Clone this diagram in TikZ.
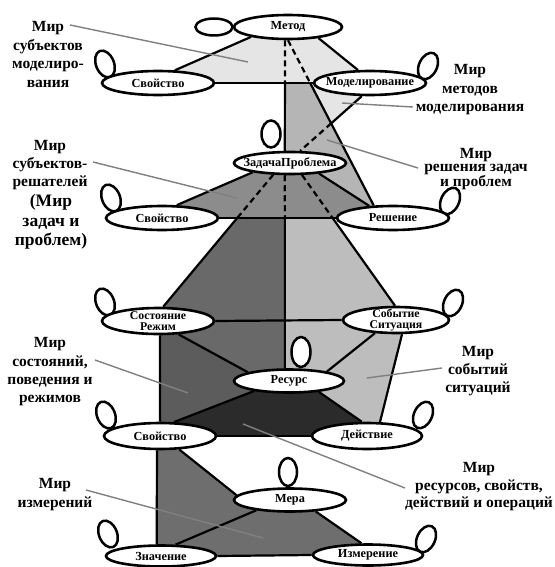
\documentclass[tikz,border=0pt]{standalone}
\usepackage{fontspec}
\setmainfont{Liberation Serif}
\usetikzlibrary{shapes.geometric,calc}
\pgfdeclarelayer{bg}
\pgfdeclarelayer{mid}
\pgfsetlayers{bg,mid,main}
\definecolor{fA}{gray}{0.90}
\definecolor{fB}{gray}{0.71}
\definecolor{fC}{gray}{0.55}
\definecolor{fD}{gray}{0.41}
\definecolor{fDb}{gray}{0.36}
\definecolor{fE}{gray}{0.74}
\definecolor{fF}{gray}{0.17}
\definecolor{fG}{gray}{0.43}
\begin{document}
\begin{tikzpicture}[x=1pt,y=-1pt]
\tikzset{
 ell/.style={ellipse, draw=black, line width=2.6pt, fill=white, inner sep=0pt},
 etxt/.style={font=\fontsize{12.3}{11.5}\selectfont\bfseries, align=center, inner sep=0pt},
 loope/.style={draw=black, line width=2.5pt, fill=white},
 conn/.style={draw=black, line width=2.2pt},
 dconn/.style={conn, dash pattern=on 6pt off 4pt},
 ptr/.style={draw=black!50, line width=1.4pt},
 lab/.style={font=\fontsize{15.5}{18.5}\selectfont\bfseries, align=center, inner sep=0pt, text=black},
}
\useasboundingbox (0,0) rectangle (554,567);
% ellipse nodes
\node[ell, minimum width=108pt, minimum height=24pt] (M) at (288,27) {};
\node[ell, minimum width=112pt, minimum height=24pt] (S1) at (158,83) {};
\node[ell, minimum width=112pt, minimum height=24pt] (D) at (370,83) {};
\node[ell, minimum width=112pt, minimum height=22pt] (Z) at (290,163) {};
\node[ell, minimum width=112pt, minimum height=24pt] (S2) at (162,218) {};
\node[ell, minimum width=112pt, minimum height=24pt] (R) at (393,218) {};
\node[ell, minimum width=112pt, minimum height=26pt] (C) at (158,321) {};
\node[ell, minimum width=106pt, minimum height=26pt] (E) at (396,320) {};
\node[ell, minimum width=110pt, minimum height=23pt] (P) at (289,381) {};
\node[ell, minimum width=112pt, minimum height=26pt] (S3) at (160,436) {};
\node[ell, minimum width=110pt, minimum height=26pt] (A) at (367,436) {};
\node[ell, minimum width=112pt, minimum height=23pt] (W) at (290,500) {};
\node[ell, minimum width=110pt, minimum height=21pt] (V) at (161,556) {};
\node[ell, minimum width=110pt, minimum height=21pt] (I) at (368,555) {};
% ellipse texts
\node[etxt] (tM) at (M) {Метод};
\node[etxt] (tS1) at (S1) {Свойство};
\node[etxt] (tD) at (D) {Моделирование};
\node[etxt] (tZ) at (Z) {ЗадачаПроблема};
\node[etxt] (tS2) at (S2) {Свойство};
\node[etxt] (tR) at (R) {Решение};
\node[etxt, font=\fontsize{11.8}{11}\selectfont\bfseries] (tC) at (C) {Состояние\\Режим};
\node[etxt, font=\fontsize{11.8}{11}\selectfont\bfseries] (tE) at (E) {Событие\\Ситуация};
\node[etxt] (tP) at (P) {Ресурс};
\node[etxt] (tS3) at (S3) {Свойство};
\node[etxt] (tA) at (A) {Действие};
\node[etxt] (tW) at (W) {Мера};
\node[etxt] (tV) at (V) {Значение};
\node[etxt] (tI) at (I) {Измерение};
% crossing points
\coordinate (x4) at (intersection of M.257--Z.113 and S1.0--D.180);
\coordinate (x5) at (intersection of M.270--R.147 and S1.0--D.180);
\coordinate (x6) at (intersection of D.238--Z.50 and M.270--R.147);
\coordinate (x10) at (intersection of Z.215--C.70 and S2.0--R.180);
\coordinate (x11) at (intersection of Z.247--P.108 and S2.0--R.180);
\coordinate (x12) at (intersection of Z.315--E.94 and S2.0--R.180);
% labels
\node[lab] (t1) at (48,54.5) {Мир\\субъектов\\моделиро-\\вания};
\node[lab] (t2) at (470,90) {Мир\\методов\\моделирования};
\node[lab, font=\fontsize{15.5}{13}\selectfont\bfseries] (t3) at (476,169) {Мир\\решения задач\\и проблем};
\node[lab, font=\fontsize{15.5}{18}\selectfont\bfseries] (t4a) at (50,165.5) {Мир\\субъектов-\\решателей};
\node[lab, font=\fontsize{17.5}{19.5}\selectfont\bfseries] (t4b) at (51,222) {(Мир\\задач и\\проблем)};
\node[lab, font=\fontsize{15.5}{18.3}\selectfont\bfseries] (t5) at (50,372) {Мир\\состояний,\\поведения и\\режимов};
\node[lab, font=\fontsize{15.5}{18}\selectfont\bfseries] (t6) at (478,371.5) {Мир\\событий\\ситуаций};
\node[lab, font=\fontsize{15.5}{17.5}\selectfont\bfseries] (t7) at (479,487) {Мир\\ресурсов, свойств,\\действий и операций};
\node[lab, font=\fontsize{15.5}{19}\selectfont\bfseries] (t8) at (55,495) {Мир\\измерений};
% pointer ends
\coordinate (p1a) at (70,25);   \coordinate (p1b) at (248,62);
\coordinate (p2a) at (413,107); \coordinate (p2b) at (342,103);
\coordinate (p3a) at (418,168); \coordinate (p3b) at (327,140);
\coordinate (p4a) at (93,162);  \coordinate (p4b) at (237,198);
\coordinate (p5a) at (95,360);  \coordinate (p5b) at (188,393);
\coordinate (p6a) at (442,368); \coordinate (p6b) at (367,378);
\coordinate (p7a) at (405,488); \coordinate (p7b) at (243,424);
\coordinate (p8a) at (86,490);  \coordinate (p8b) at (263,538);

\begin{pgfonlayer}{bg}
\fill[white] (0,0) rectangle (554,567);
\fill[fA] (M.195) -- (M.340) -- (D.133) -- (D.238) -- (x6) -- (x5) -- (S1.0) -- (S1.37) -- cycle;
\fill[fB] (x4) -- (x5) -- (R.147) -- (R.180) -- (x11) -- cycle;
\fill[fC] (Z.194) -- (Z.340) -- (R.153) -- (R.180) -- (S2.0) -- (S2.41) -- cycle;
\fill[fD] (x10) -- (x11) -- (P.108) -- (P.196) -- (S3.45) -- (S3.90) -- (C.278) -- (C.70) -- cycle;
\fill[fDb] (C.278) -- (C.327) -- (P.168) -- (P.196) -- (S3.45) -- (S3.90) -- cycle;
\fill[fE] (x11) -- (x12) -- (E.94) -- (E.293) -- (A.47) -- (A.110) -- (P.340) -- (P.108) -- cycle;
\fill[fF] (P.196) -- (P.340) -- (A.110) -- (A.180) -- (S3.0) -- (S3.45) -- cycle;
\fill[fG] (S3.258) -- (S3.325) -- (W.175) -- (W.336) -- (I.119) -- (I.180) -- (V.0) -- (V.110) -- cycle;
\end{pgfonlayer}

\begin{pgfonlayer}{mid}
\draw[conn] (M.195) -- (S1.37);
\draw[conn] (M.340) -- (D.133);
\draw[conn] (S1.0) -- (D.180);
\draw[dconn] (M.257) -- (x4); \draw[conn] (x4) -- (Z.113);
\draw[dconn] (M.270) -- (x5); \draw[conn] (x5) -- (R.147);
\draw[conn] (D.238) -- (x6); \draw[dconn] (x6) -- (Z.50);
\draw[conn] (Z.194) -- (S2.41);
\draw[conn] (Z.340) -- (R.153);
\draw[conn] (S2.0) -- (R.180);
\draw[dconn] (Z.215) -- (x10); \draw[conn] (x10) -- (C.70);
\draw[dconn] (Z.247) -- (x11); \draw[conn] (x11) -- (P.108);
\draw[dconn] (Z.315) -- (x12); \draw[conn] (x12) -- (E.94);
\draw[conn] (C.0) -- (E.180);
\draw[conn] (C.327) -- (P.168);
\draw[conn] (E.212) -- (P.14);
\draw[conn] (C.278) -- (S3.90);
\draw[conn] (E.293) -- (A.47);
\draw[conn] (P.196) -- (S3.45);
\draw[conn] (P.340) -- (A.110);
\draw[conn] (S3.0) -- (A.180);
\draw[conn] (S3.258) -- (V.110);
\draw[conn] (S3.325) -- (W.175);
\draw[conn] (V.38) -- (W.197);
\draw[conn] (W.336) -- (I.119);
\draw[conn] (V.0) -- (I.180);
\draw[ptr] (p1a) -- (p1b);
\draw[ptr] (p2a) -- (p2b);
\draw[ptr] (p3a) -- (p3b);
\draw[ptr] (p4a) -- (p4b);
\draw[ptr] (p5a) -- (p5b);
\draw[ptr] (p6a) -- (p6b);
\draw[ptr] (p7a) -- (p7b);
\draw[ptr] (p8a) -- (p8b);
\draw[loope] (214,27) ellipse [x radius=18.5pt, y radius=8.5pt];
\draw[loope, rotate around={22:(105,64)}] (105,64) ellipse [x radius=9pt, y radius=14pt];
\draw[loope, rotate around={-25:(428,66)}] (428,66) ellipse [x radius=9pt, y radius=14pt];
\draw[loope] (271,134) ellipse [x radius=9.5pt, y radius=13.5pt];
\draw[loope, rotate around={22:(111,198)}] (111,198) ellipse [x radius=9pt, y radius=14pt];
\draw[loope, rotate around={-25:(450,201)}] (450,201) ellipse [x radius=9pt, y radius=14pt];
\draw[loope, rotate around={22:(105,302)}] (105,302) ellipse [x radius=9pt, y radius=14pt];
\draw[loope, rotate around={-25:(453,303)}] (453,303) ellipse [x radius=9pt, y radius=14pt];
\draw[loope] (301,352) ellipse [x radius=9.5pt, y radius=15pt];
\draw[loope, rotate around={22:(106,415)}] (106,415) ellipse [x radius=9pt, y radius=14pt];
\draw[loope, rotate around={-25:(423,415)}] (423,415) ellipse [x radius=9pt, y radius=14pt];
\draw[loope] (288,472) ellipse [x radius=9pt, y radius=14pt];
\draw[loope, rotate around={22:(108,534)}] (108,534) ellipse [x radius=9pt, y radius=14pt];
\draw[loope, rotate around={-25:(426,539)}] (426,539) ellipse [x radius=9pt, y radius=14pt];
\end{pgfonlayer}
\end{tikzpicture}
\end{document}
